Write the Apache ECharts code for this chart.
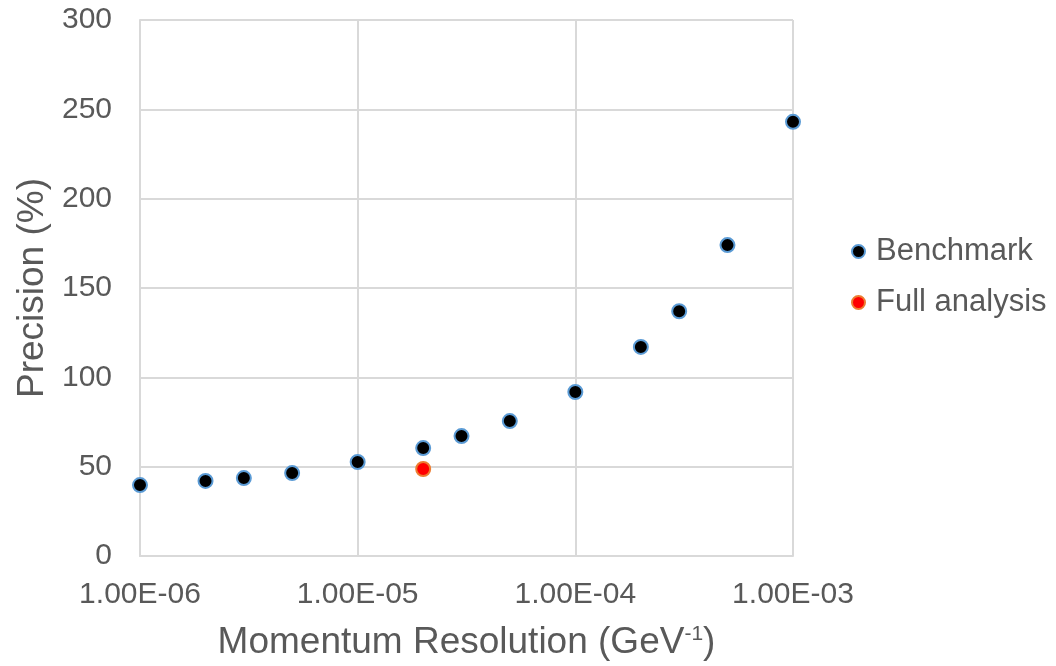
<!DOCTYPE html>
<html><head><meta charset="utf-8">
<script src="https://cdn.jsdelivr.net/npm/echarts@6/dist/echarts.min.js"></script>
<style>html,body{margin:0;padding:0;background:#fff}#c{width:1056px;height:666px}</style>
</head><body><div id="c"></div>
<script>
const benchmarkX = [1e-6, 2e-6, 3e-6, 5e-6, 1e-5, 2e-5, 3e-5, 5e-5, 1e-4, 2e-4, 3e-4, 5e-4, 1e-3];
const benchmarkY = [39.7, 42, 43.6, 46.4, 52.6, 60.4, 67.1, 75.5, 91.8, 117, 137, 174, 243];
const fullX = [2e-5];
const fullY = [48.7];
const yTicks = [0, 50, 100, 150, 200, 250, 300];

const font = 'Liberation Sans, Arial, sans-serif';
const chart = echarts.init(document.getElementById('c'));
function fmt(v){
  const e = Math.round(Math.log10(v));
  const m = v / Math.pow(10, e);
  const s = e < 0 ? '-' : '+';
  const a = Math.abs(e);
  return m.toFixed(2) + 'E' + s + (a < 10 ? '0' + a : a);
}
chart.setOption({
  animation: false,
  grid: {left: 140, right: 263, top: 20, bottom: 110},
  legend: {
    orient: 'vertical', left: 846, top: 231, itemGap: 20,
    itemWidth: 13, itemHeight: 13,
    textStyle: {fontFamily: font, fontSize: 31, color: '#595959', padding: [0, 0, 0, 6]},
    data: ['Benchmark', 'Full analysis']
  },
  xAxis: {
    type: 'log', logBase: 10, min: 1e-6, max: 1e-3,
    name: 'Momentum Resolution (GeV{sup|-1})',
    nameLocation: 'middle', nameGap: 68,
    nameTextStyle: {fontFamily: font, fontSize: 37, color: '#595959',
      rich: {sup: {fontFamily: font, fontSize: 21, color: '#595959', verticalAlign: 'top', padding: [0,0,14,0]}}},
    axisLine: {show: true, lineStyle: {color: '#D9D9D9', width: 2}},
    axisTick: {show: false},
    minorTick: {show: false},
    splitLine: {show: true, lineStyle: {color: '#D9D9D9', width: 2}},
    axisLabel: {fontFamily: font, fontSize: 30, color: '#595959', margin: 24, formatter: fmt}
  },
  yAxis: {
    type: 'value', min: yTicks[0], max: yTicks[yTicks.length-1], interval: 50,
    name: 'Precision (%)', nameLocation: 'middle', nameGap: 88,
    nameTextStyle: {fontFamily: font, fontSize: 37, color: '#595959'},
    axisLine: {show: true, lineStyle: {color: '#D9D9D9', width: 2}},
    axisTick: {show: false},
    splitLine: {show: true, lineStyle: {color: '#D9D9D9', width: 2}},
    axisLabel: {fontFamily: font, fontSize: 30, color: '#595959', margin: 28}
  },
  series: [
    {name: 'Benchmark', type: 'scatter', symbolSize: 14,
      itemStyle: {color: '#000000', borderColor: '#5B9BD5', borderWidth: 2, opacity: 1},
      data: benchmarkX.map((x,i)=>[x, benchmarkY[i]])},
    {name: 'Full analysis', type: 'scatter', symbolSize: 14,
      itemStyle: {color: '#FF0000', borderColor: '#ED7D31', borderWidth: 2, opacity: 1},
      data: fullX.map((x,i)=>[x, fullY[i]])}
  ]
});
</script></body></html>
